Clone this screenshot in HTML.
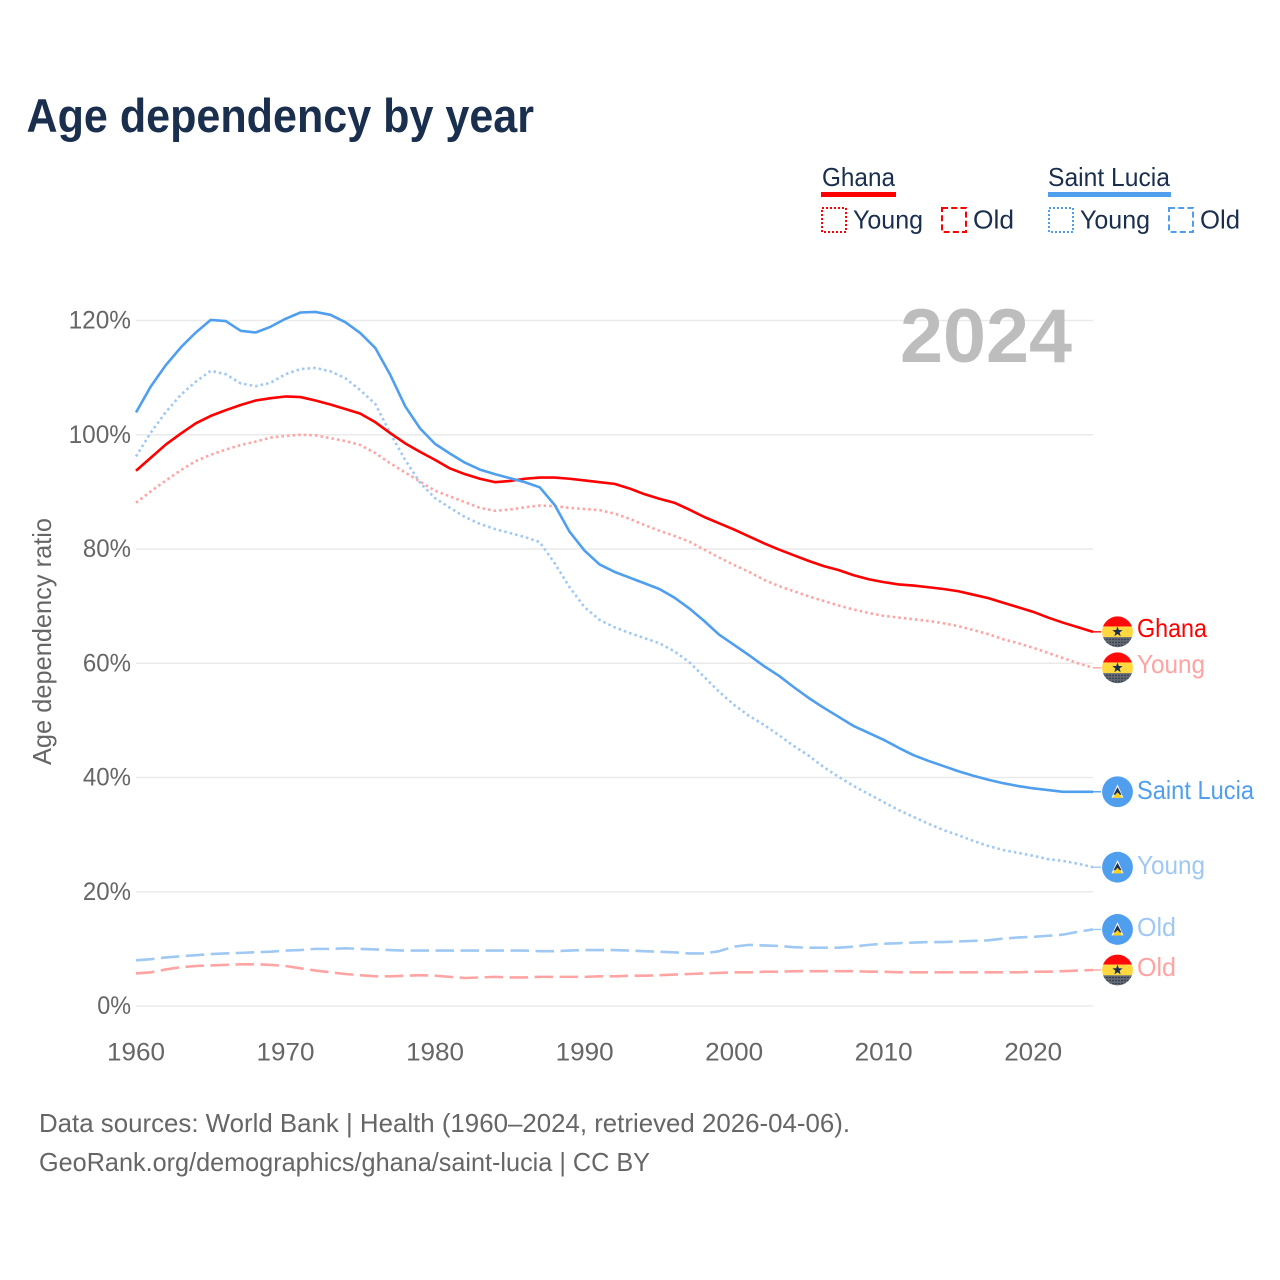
<!DOCTYPE html>
<html lang="en">
<head>
<meta charset="utf-8">
<title>Age dependency by year</title>
<style>
html,body{margin:0;padding:0;background:#fff;}
svg{display:block;font-family:"Liberation Sans",sans-serif;}
</style>
</head>
<body>
<svg id="chart" width="1280" height="1280" viewBox="0 0 1280 1280" xmlns="http://www.w3.org/2000/svg">
  <defs>
    <clipPath id="icon-clip"><circle cx="0" cy="0" r="15.4"></circle></clipPath>
    <pattern id="flag-dots" width="3" height="3" patternUnits="userSpaceOnUse">
      <rect width="3" height="3" fill="#666a70"></rect>
      <circle cx="1.5" cy="1.5" r="0.8" fill="#1a2f4e"></circle>
    </pattern>
  </defs>
  <rect width="1280" height="1280" fill="#fff"></rect>
  <text x="26.5" y="132" font-size="47" font-weight="700" fill="#1a2f4e" textLength="507.5" lengthAdjust="spacingAndGlyphs">Age dependency by year</text>

  <g font-size="26" fill="#1a2f4e">
    <text x="822" y="186" textLength="73" lengthAdjust="spacingAndGlyphs">Ghana</text>
    <rect x="821" y="192" width="75" height="5" fill="#ff0000"></rect>
    <rect x="822" y="208" width="24" height="24" fill="none" stroke="#ff0000" stroke-width="2" stroke-dasharray="2 2"></rect>
    <text x="853" y="228.5" textLength="70" lengthAdjust="spacingAndGlyphs">Young</text>
    <rect x="942" y="208" width="24" height="24" fill="none" stroke="#ff0000" stroke-width="2" stroke-dasharray="6 3.2"></rect>
    <text x="973" y="228.5" textLength="41" lengthAdjust="spacingAndGlyphs">Old</text>

    <text x="1048" y="186" textLength="122" lengthAdjust="spacingAndGlyphs">Saint Lucia</text>
    <rect x="1048" y="192" width="123" height="5" fill="#4f9fee"></rect>
    <rect x="1049" y="208" width="24" height="24" fill="none" stroke="#4f9fee" stroke-width="2" stroke-dasharray="2 2"></rect>
    <text x="1080" y="228.5" textLength="70" lengthAdjust="spacingAndGlyphs">Young</text>
    <rect x="1169" y="208" width="24" height="24" fill="none" stroke="#4f9fee" stroke-width="2" stroke-dasharray="6 3.2"></rect>
    <text x="1200" y="228.5" textLength="40" lengthAdjust="spacingAndGlyphs">Old</text>
  </g>

  <text transform="translate(51 765) rotate(-90)" font-size="26" fill="#666" textLength="247" lengthAdjust="spacingAndGlyphs">Age dependency ratio</text>

  <g id="grid"></g>
  <g id="y-ticks"></g>
  <g id="x-ticks"></g>

  <text x="900" y="362" font-size="76" font-weight="700" fill="#bdbdbd" textLength="172" lengthAdjust="spacingAndGlyphs">2024</text>

  <g id="series"></g>
  <g id="end-labels"></g>

  <text x="39" y="1132" font-size="26" fill="#666" textLength="811" lengthAdjust="spacingAndGlyphs">Data sources: World Bank | Health (1960–2024, retrieved 2026-04-06).</text>
  <text x="39" y="1171" font-size="26" fill="#666" textLength="611" lengthAdjust="spacingAndGlyphs">GeoRank.org/demographics/ghana/saint-lucia | CC BY</text>
</svg>

<script>
const firstYear = 1960;
const lastYear = 2024;
const yearTicks = [1960, 1970, 1980, 1990, 2000, 2010, 2020];
const percentTicks = [0, 20, 40, 60, 80, 100, 120];

const ghanaTotal = [93.7,96,98.3,100.2,102,103.3,104.3,105.2,106,106.4,106.7,106.6,106,105.3,104.5,103.7,102.2,100.3,98.5,97,95.6,94.1,93.1,92.3,91.7,91.9,92.3,92.5,92.5,92.3,92,91.7,91.4,90.6,89.6,88.8,88.1,86.9,85.6,84.5,83.4,82.2,81,79.9,78.9,77.9,77,76.3,75.4,74.7,74.2,73.8,73.6,73.3,73,72.6,72,71.4,70.6,69.8,69,68,67.1,66.3,65.5];
const ghanaYoung = [88.1,90.1,92,93.8,95.4,96.5,97.4,98.2,98.8,99.5,99.8,100,99.9,99.4,98.9,98.2,96.8,95,93.4,91.8,90.2,89.2,88.2,87.2,86.7,86.9,87.3,87.6,87.5,87.2,87,86.8,86.2,85.3,84.2,83.2,82.3,81.3,79.9,78.5,77.2,76,74.6,73.5,72.6,71.7,70.9,70.1,69.4,68.8,68.3,68,67.7,67.4,67,66.5,65.8,65.1,64.2,63.5,62.7,61.8,60.9,60,59.2];
const ghanaOld = [5.7,5.9,6.4,6.8,7,7.1,7.2,7.3,7.3,7.2,7,6.6,6.2,5.9,5.6,5.4,5.2,5.2,5.3,5.4,5.3,5.1,4.9,5,5.1,5,5,5.1,5.1,5.1,5.1,5.2,5.2,5.3,5.3,5.4,5.5,5.6,5.7,5.8,5.9,5.9,6,6,6.1,6.1,6.1,6.1,6.1,6,6,5.9,5.9,5.9,5.9,5.9,5.9,5.9,5.9,5.9,6,6,6.1,6.2,6.3];
const saintLuciaTotal = [103.9,108.5,112.2,115.3,117.9,120.1,119.9,118.2,117.9,118.9,120.3,121.4,121.5,121,119.7,117.8,115.2,110.5,105,101.1,98.4,96.7,95.1,93.9,93.1,92.4,91.7,90.8,87.7,83,79.7,77.3,76,75,74,73,71.5,69.6,67.4,65,63.2,61.4,59.5,57.8,55.8,53.9,52.2,50.6,49,47.8,46.6,45.2,43.9,42.9,42,41.1,40.3,39.6,39,38.5,38.1,37.8,37.5,37.5,37.5];
const saintLuciaYoung = [96.2,100.4,104,107,109.3,111.2,110.6,109,108.5,109.1,110.6,111.5,111.7,111.1,109.9,107.8,105.4,100.3,95.6,91.6,88.9,87.2,85.6,84.4,83.5,82.8,82.1,81.2,77.5,73.3,69.8,67.6,66.3,65.3,64.4,63.5,62.1,60.2,57.6,55,52.7,50.8,49.2,47.4,45.5,43.8,41.8,40.1,38.5,37.1,35.7,34.3,33.1,31.9,30.8,29.9,28.9,28,27.3,26.8,26.3,25.7,25.4,24.9,24.3];
const saintLuciaOld = [8,8.2,8.5,8.7,8.9,9.1,9.2,9.3,9.4,9.5,9.7,9.8,10,10,10.1,10,9.9,9.8,9.7,9.7,9.7,9.7,9.7,9.7,9.7,9.7,9.7,9.6,9.6,9.7,9.8,9.8,9.8,9.7,9.6,9.5,9.4,9.2,9.2,9.6,10.4,10.7,10.6,10.5,10.3,10.2,10.2,10.2,10.4,10.7,10.9,11,11.1,11.2,11.2,11.3,11.4,11.5,11.8,12,12.1,12.3,12.5,13,13.4];

const SVG_NS = 'http://www.w3.org/2000/svg';
const xAxis = (year) => 136 + (year - firstYear) * (1093 - 136) / (lastYear - firstYear);
const yAxis = (pct) => 1006 - pct * (1006 - 320.5) / 120;

function make(parent, tag, attrs, text) {
  const el = document.createElementNS(SVG_NS, tag);
  for (const key in attrs) el.setAttribute(key, attrs[key]);
  if (text !== undefined) el.textContent = text;
  parent.appendChild(el);
  return el;
}

const gridGroup = document.getElementById('grid');
const yTickGroup = document.getElementById('y-ticks');
const xTickGroup = document.getElementById('x-ticks');

percentTicks.forEach((pct) => {
  const line = make(gridGroup, 'line', {x1: xAxis(firstYear), x2: xAxis(lastYear), y1: yAxis(pct), y2: yAxis(pct), stroke: '#eaeaea', 'stroke-width': 1.6});
  
  
  const label = String(pct) + '%';
  const width = 14.3 * String(pct).length + 19.5;
  const tick = make(yTickGroup, 'text', {x: 131 - width, y: yAxis(pct) + 8, 'font-size': 25, fill: '#666', textLength: width, lengthAdjust: 'spacingAndGlyphs'}, label);
  
  
});

yearTicks.forEach((year) => {
  const tick = make(xTickGroup, 'text', {x: xAxis(year) - 29, y: 1060.5, 'font-size': 25, fill: '#666', textLength: 58, lengthAdjust: 'spacingAndGlyphs'}, String(year));
  
  
});

const RED = '#ff0000', BLUE = '#4f9fee', RED_LIGHT = '#ffa3a3', BLUE_LIGHT = '#9fc8f3';
const DOTTED = '2.5 3.1', DASHED = '18.5 6.5';

const seriesList = [
  {key: 'ghana-young', values: ghanaYoung, color: RED_LIGHT, dash: DOTTED, width: 2.6, label: 'Young', labelWidth: 68, nudge: 5, icon: 'ghana'},
  {key: 'saint-lucia-young', values: saintLuciaYoung, color: BLUE_LIGHT, dash: DOTTED, width: 2.6, label: 'Young', labelWidth: 68, nudge: 7, icon: 'lucia'},
  {key: 'ghana-old', values: ghanaOld, color: RED_LIGHT, dash: DASHED, width: 2.6, label: 'Old', labelWidth: 39, nudge: 6, icon: 'ghana'},
  {key: 'saint-lucia-old', values: saintLuciaOld, color: BLUE_LIGHT, dash: DASHED, width: 2.6, label: 'Old', labelWidth: 39, nudge: 6.5, icon: 'lucia'},
  {key: 'ghana-total', values: ghanaTotal, color: RED, dash: null, width: 2.6, label: 'Ghana', labelWidth: 70, nudge: 5, icon: 'ghana'},
  {key: 'saint-lucia-total', values: saintLuciaTotal, color: BLUE, dash: null, width: 2.6, label: 'Saint Lucia', labelWidth: 117, nudge: 7, icon: 'lucia'}
];

const seriesGroup = document.getElementById('series');
const labelGroup = document.getElementById('end-labels');

function drawGhanaIcon(group) {
  make(group, 'rect', {x: -16, y: -16, width: 32, height: 10.7, fill: '#ff0a0a'});
  make(group, 'rect', {x: -16, y: -5.4, width: 32, height: 10.7, fill: '#ffd83f'});
  make(group, 'rect', {x: -16, y: 5.3, width: 32, height: 11, fill: 'url(#flag-dots)'});
  const pts = [];
  for (let i = 0; i < 10; i++) {
    const r = i % 2 ? 2.2 : 5.4;
    const a = -Math.PI / 2 + i * Math.PI / 5;
    pts.push((r * Math.cos(a)).toFixed(2) + ',' + (r * Math.sin(a)).toFixed(2));
  }
  make(group, 'polygon', {points: pts.join(' '), fill: '#1a2f4e'});
}

function drawLuciaIcon(group) {
  make(group, 'circle', {cx: 0, cy: 0, r: 16, fill: '#4f9fee'});
  make(group, 'polygon', {points: '0,-7.5 6,6 -6,6', fill: '#f4f6f8'});
  make(group, 'polygon', {points: '0,-4.5 4,3 -4,3', fill: '#1a2f4e'});
  make(group, 'polygon', {points: '0,0.5 5.2,6 -5.2,6', fill: '#fcd116'});
}

seriesList.forEach((s) => {
  const d = s.values.map((v, i) => (i ? 'L' : 'M') + xAxis(firstYear + i).toFixed(2) + ' ' + yAxis(v).toFixed(2)).join(' ');
  const attrs = {d: d, fill: 'none', stroke: s.color, 'stroke-width': s.width, 'stroke-linejoin': 'round'};
  if (s.dash) attrs['stroke-dasharray'] = s.dash;
  const path = make(seriesGroup, 'path', attrs);
  
  

  const endY = yAxis(s.values[s.values.length - 1]);
  const leader = make(labelGroup, 'line', {x1: xAxis(lastYear), x2: 1101, y1: endY, y2: endY, stroke: s.color, 'stroke-width': 1.4});
  
  

  const icon = make(labelGroup, 'g', {transform: 'translate(1117.5 ' + endY.toFixed(2) + ')', 'clip-path': 'url(#icon-clip)'});
  
  
  if (s.icon === 'ghana') drawGhanaIcon(icon); else drawLuciaIcon(icon);

  const label = make(labelGroup, 'text', {x: 1137, y: endY + s.nudge, 'font-size': 26, fill: s.color, textLength: s.labelWidth, lengthAdjust: 'spacingAndGlyphs'}, s.label);
  
  
});
</script>
</body>
</html>
